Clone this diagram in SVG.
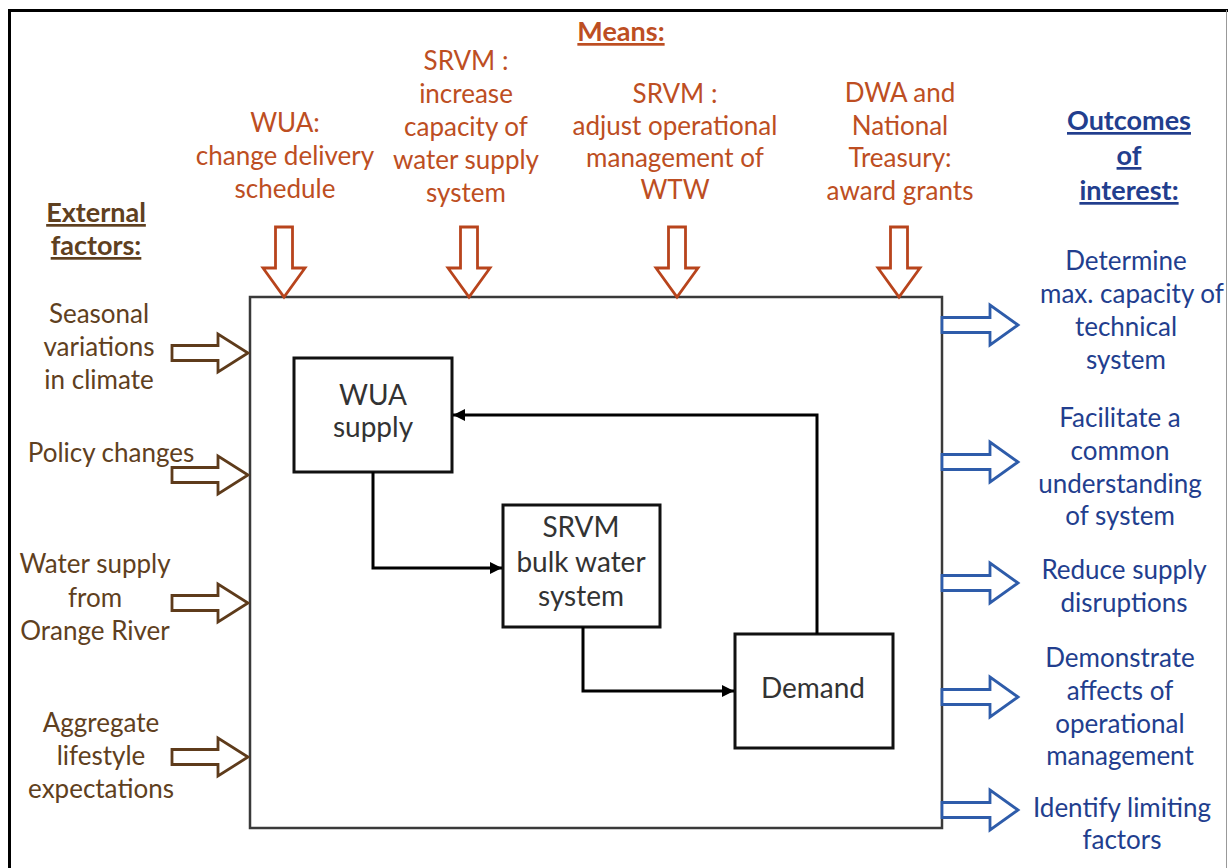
<svg xmlns="http://www.w3.org/2000/svg" width="1228" height="868" viewBox="0 0 1228 868">
<style>
text{font-family:Lato,"Open Sans","Liberation Sans",sans-serif;font-size:26px;text-anchor:middle}
.m{fill:#BD4E22}
.e{fill:#5F4020}
.o{fill:#223E8E}
.n{fill:#333333;font-size:28px}
.h{font-weight:bold;text-decoration:underline;font-size:27px}
.box{fill:#ffffff;stroke:#111111;stroke-width:3}
.con{fill:none;stroke:#000000;stroke-width:3}
.dn{fill:#ffffff;stroke:#B8441C;stroke-width:2.8}
.lt{fill:#ffffff;stroke:#5E3B1B;stroke-width:2.8}
.rt{fill:#ffffff;stroke:#2E5CAA;stroke-width:2.8}
</style>
<defs>
<marker id="ah" viewBox="0 0 10 10" refX="10" refY="5" markerWidth="12" markerHeight="12" orient="auto" markerUnits="userSpaceOnUse">
<path d="M0,0 L10,5 L0,10 z" fill="#000000"/>
</marker>
<path id="down" d="M-8.5,-70 L8.5,-70 L8.5,-29 L21,-29 L0,0 L-21,-29 L-8.5,-29 z"/>
<path id="left" d="M-76,-7.5 L-30,-7.5 L-30,-19 L0,0 L-30,19 L-30,7.5 L-76,7.5 z"/>
<path id="right" d="M0,-7.5 L48,-7.5 L48,-20 L76,0 L48,20 L48,7.5 L0,7.5 z"/>
</defs>
<rect width="1228" height="868" fill="#ffffff"/>
<g id="frame">
<path d="M9.5,868 L9.5,10.5 L1228,10.5" fill="none" stroke="#000000" stroke-width="3"/>
<line x1="1226.5" y1="10" x2="1226.5" y2="868" stroke="#999999" stroke-width="1"/>
</g>
<g id="system">
<rect x="250" y="297" width="692" height="531" fill="#ffffff" stroke="#3a3a3a" stroke-width="2.5"/>
</g>
<g id="means">
<text class="m h" x="621" y="41">Means:</text>
<text class="m" x="285"><tspan x="285" y="132">WUA:</tspan><tspan x="285" y="165">change delivery</tspan><tspan x="285" y="198">schedule</tspan></text>
<text class="m" x="466"><tspan x="466" y="70">SRVM :</tspan><tspan x="466" y="103">increase</tspan><tspan x="466" y="136">capacity of</tspan><tspan x="466" y="169">water supply</tspan><tspan x="466" y="202">system</tspan></text>
<text class="m" x="675"><tspan x="675" y="103">SRVM :</tspan><tspan x="675" y="135">adjust operational</tspan><tspan x="675" y="167">management of</tspan><tspan x="675" y="199">WTW</tspan></text>
<text class="m" x="900"><tspan x="900" y="102">DWA and</tspan><tspan x="900" y="135">National</tspan><tspan x="900" y="167">Treasury:</tspan><tspan x="900" y="200">award grants</tspan></text>
<use href="#down" class="dn" x="284" y="297"/>
<use href="#down" class="dn" x="469" y="297"/>
<use href="#down" class="dn" x="677" y="297"/>
<use href="#down" class="dn" x="899" y="297"/>
</g>
<g id="external">
<text class="e h" x="96"><tspan x="96" y="222">External</tspan><tspan x="96" y="255">factors:</tspan></text>
<text class="e" x="99"><tspan x="99" y="323">Seasonal</tspan><tspan x="99" y="356">variations</tspan><tspan x="99" y="389">in climate</tspan></text>
<text class="e" x="111" y="462">Policy changes</text>
<text class="e" x="95"><tspan x="95" y="573">Water supply</tspan><tspan x="95" y="607">from</tspan><tspan x="95" y="640">Orange River</tspan></text>
<text class="e" x="101"><tspan x="101" y="732">Aggregate</tspan><tspan x="101" y="765">lifestyle</tspan><tspan x="101" y="798">expectations</tspan></text>
<use href="#left" class="lt" x="248" y="353"/>
<use href="#left" class="lt" x="248" y="475"/>
<use href="#left" class="lt" x="248" y="603"/>
<use href="#left" class="lt" x="248" y="757"/>
</g>
<g id="outcomes">
<text class="o h" x="1129"><tspan x="1129" y="130">Outcomes</tspan><tspan x="1129" y="165">of</tspan><tspan x="1129" y="200">interest:</tspan></text>
<text class="o" x="1126"><tspan x="1126" y="270">Determine</tspan><tspan x="1132" y="303">max. capacity of</tspan><tspan x="1126" y="336">technical</tspan><tspan x="1126" y="369">system</tspan></text>
<text class="o" x="1120"><tspan x="1120" y="427">Facilitate a</tspan><tspan x="1120" y="460">common</tspan><tspan x="1120" y="493">understanding</tspan><tspan x="1120" y="525">of system</tspan></text>
<text class="o" x="1124"><tspan x="1124" y="579">Reduce supply</tspan><tspan x="1124" y="612">disruptions</tspan></text>
<text class="o" x="1120"><tspan x="1120" y="667">Demonstrate</tspan><tspan x="1120" y="700">affects of</tspan><tspan x="1120" y="733">operational</tspan><tspan x="1120" y="765">management</tspan></text>
<text class="o" x="1122"><tspan x="1122" y="817">Identify limiting</tspan><tspan x="1122" y="849">factors</tspan></text>
<use href="#right" class="rt" x="942" y="325"/>
<use href="#right" class="rt" x="942" y="462"/>
<use href="#right" class="rt" x="942" y="583"/>
<use href="#right" class="rt" x="942" y="697"/>
<use href="#right" class="rt" x="942" y="810"/>
</g>
<g id="node-wua">
<rect class="box" x="294" y="358" width="158" height="114"/>
<text class="n"><tspan x="373" y="405">WUA</tspan><tspan x="373" y="437">supply</tspan></text>
</g>
<g id="node-srvm">
<rect class="box" x="503" y="505" width="157" height="122"/>
<text class="n"><tspan x="581" y="537">SRVM</tspan><tspan x="581" y="572">bulk water</tspan><tspan x="581" y="606">system</tspan></text>
</g>
<g id="node-demand">
<rect class="box" x="735" y="634" width="158" height="114"/>
<text class="n" x="813" y="698">Demand</text>
</g>
<g id="connectors">
<path class="con" d="M373,472 L373,568 L502,568" marker-end="url(#ah)"/>
<path class="con" d="M583,627 L583,691 L734,691" marker-end="url(#ah)"/>
<path class="con" d="M817,634 L817,415 L453,415" marker-end="url(#ah)"/>
</g>
</svg>
